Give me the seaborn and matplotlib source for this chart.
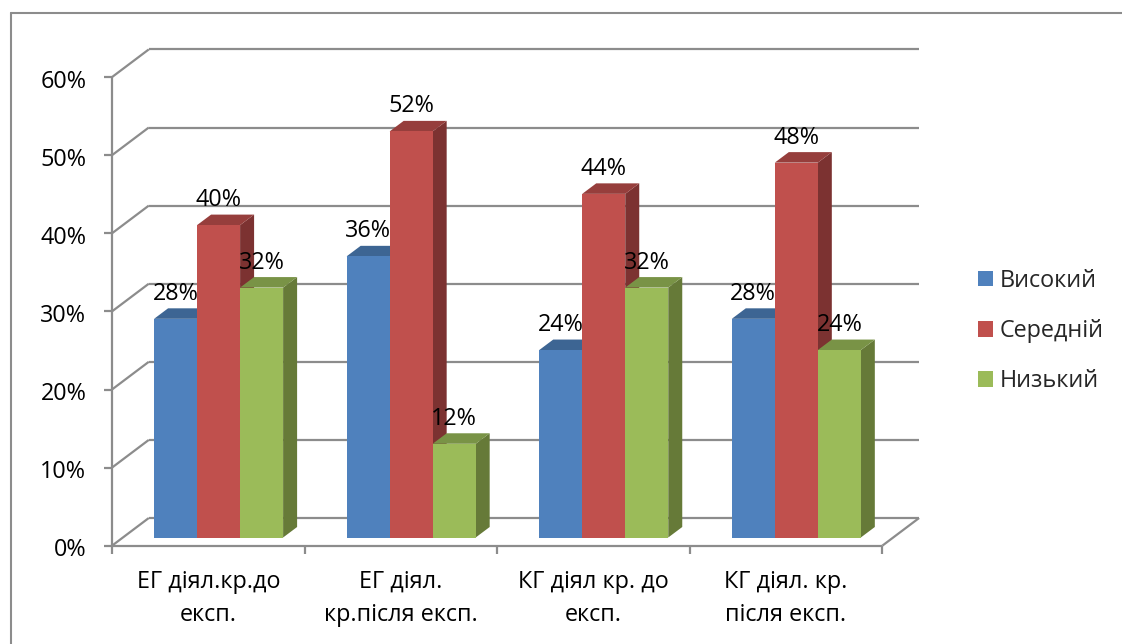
import matplotlib
matplotlib.use("Agg")
import matplotlib.pyplot as plt
from matplotlib.lines import Line2D
from matplotlib.patches import Polygon
from matplotlib.transforms import ScaledTranslation
import pandas as pd
import seaborn as sns

categories = ["ЕГ діял.кр.до\nексп.", "ЕГ діял.\nкр.після експ.",
              "КГ діял кр. до\nексп.", "КГ діял. кр.\nпісля експ."]
vysokyi = [0.28, 0.36, 0.24, 0.28]
serednii = [0.40, 0.52, 0.44, 0.48]
nyzkyi = [0.32, 0.12, 0.32, 0.24]
series_names = ["Високий", "Середній", "Низький"]
front_colors = ["#4F81BD", "#C0504D", "#9BBB59"]
top_colors = ["#3D6593", "#963E3C", "#799346"]
side_colors = ["#2F4E72", "#7C3231", "#667A38"]
y_ticks = [0.0, 0.1, 0.2, 0.3, 0.4, 0.5, 0.6]

W, H, DPI = 1122, 644, 100
GRAY = "#8c8c8c"
FS = 16.8

sns.set_theme(style="white")
plt.rcParams["font.family"] = ["Open Sans", "DejaVu Sans"]

fig = plt.figure(figsize=(W / DPI, H / DPI), dpi=DPI, facecolor="white")
# plot plane that carries the bars, in pixel bounds of the picture
L, R, T, B = 122.3, 892.6, 68.9, 537.5
ax = fig.add_axes([L / W, 1 - B / H, (R - L) / W, (B - T) / H])
ax.patch.set_alpha(0)

df = pd.DataFrame({
    "cat": categories * 3,
    "value": vysokyi + serednii + nyzkyi,
    "level": [s for s in series_names for _ in categories],
})
sns.barplot(data=df, x="cat", y="value", hue="level", hue_order=series_names,
            palette=front_colors, saturation=1, width=0.67, gap=0, dodge=True,
            linewidth=0, ax=ax, zorder=3)
ax.set_xlim(-0.5, 3.5)
ax.set_ylim(0, 0.6)
sns.despine(ax=ax, left=True, bottom=True)
ax.set_xlabel("")
ax.set_ylabel("")

px = 4 / (R - L)      # category units per pixel
py = 0.6 / (B - T)    # value units per pixel


def seg(xs, ys, **kw):
    ax.add_line(Line2D(xs, ys, color=GRAY, lw=1.6, clip_on=False,
                       solid_capstyle="butt", zorder=1, **kw))


# front plane / back plane offsets relative to the bar plane
fx, fy = -10.3 * px, -8.2 * py
bx, by = 26.5 * px, 19.5 * py
x0, x1 = -0.5, 3.5
for v in y_ticks:
    seg([x0 + bx, x1 + bx], [v + by, v + by])
    seg([x0 + fx, x0 + bx], [v + fy, v + by])
    seg([x0 + fx - 8 * px, x0 + fx], [v + fy, v + fy])
seg([x0 + fx, x0 + fx], [fy, 0.6 + fy])
seg([x0 + fx, x1 + fx], [fy, fy])
seg([x1 + fx, x1 + bx], [fy, by])
for i in range(len(categories) + 1):
    xt = x0 + i + fx
    seg([xt, xt], [fy, fy - 8.5 * py])

# bar depth, derived from each drawn bar
dx, dy = 14 * px, 10.5 * py
for s, cont in enumerate(ax.containers):
    z = 3 + 2 * s
    for bar in cont:
        xa, w, h = bar.get_x(), bar.get_width(), bar.get_height()
        xb = xa + w
        bar.set_zorder(z + 1)
        ax.add_patch(Polygon([(xb, 0), (xb + dx, dy), (xb + dx, h + dy), (xb, h)],
                             closed=True, fc=side_colors[s], ec="none",
                             clip_on=False, zorder=z))
        ax.add_patch(Polygon([(xa, h), (xa + dx, h + dy), (xb + dx, h + dy), (xb, h)],
                             closed=True, fc=top_colors[s], ec="none",
                             clip_on=False, zorder=z))
        ax.annotate(f"{h * 100:.0f}%", (xa + w / 2, h), xytext=(0, 25 * 0.72),
                    textcoords="offset points", ha="center", va="center",
                    fontsize=FS, color="black", zorder=20, annotation_clip=False)

# axis labels
ax.set_yticks(y_ticks)
ax.set_yticklabels([f"{v * 100:.0f}%" for v in y_ticks], fontsize=FS, color="black")
ax.tick_params(axis="y", length=0, pad=36 * 0.72)
ax.tick_params(axis="x", length=0, pad=32.5 * 0.72)
ax.set_xticks(range(len(categories)))
ax.set_xticklabels(categories, fontsize=FS, color="black", linespacing=1.48)
for lab in ax.get_yticklabels():
    lab.set_transform(lab.get_transform() + ScaledTranslation(0, -10 / DPI, fig.dpi_scale_trans))
for lab in ax.get_xticklabels():
    lab.set_transform(lab.get_transform() + ScaledTranslation(-10.3 / DPI, 0, fig.dpi_scale_trans))

# legend
sns.move_legend(ax, loc="center left", bbox_to_anchor=(978 / W, 1 - 331 / H),
                bbox_transform=fig.transFigure, frameon=False, title=None,
                fontsize=FS, handlelength=0.65, handleheight=0.65,
                labelspacing=1.12, handletextpad=0.28, borderpad=0, borderaxespad=0)

# chart frame (runs off the right and bottom of the picture)
fig.add_artist(Line2D([10.5 / W, 10.5 / W], [0, 1 - 12.5 / H], color=GRAY, lw=1.5))
fig.add_artist(Line2D([10.5 / W, 1], [1 - 12.5 / H, 1 - 12.5 / H], color=GRAY, lw=1.5))

fig.savefig("out.png", dpi=DPI, facecolor="white")
